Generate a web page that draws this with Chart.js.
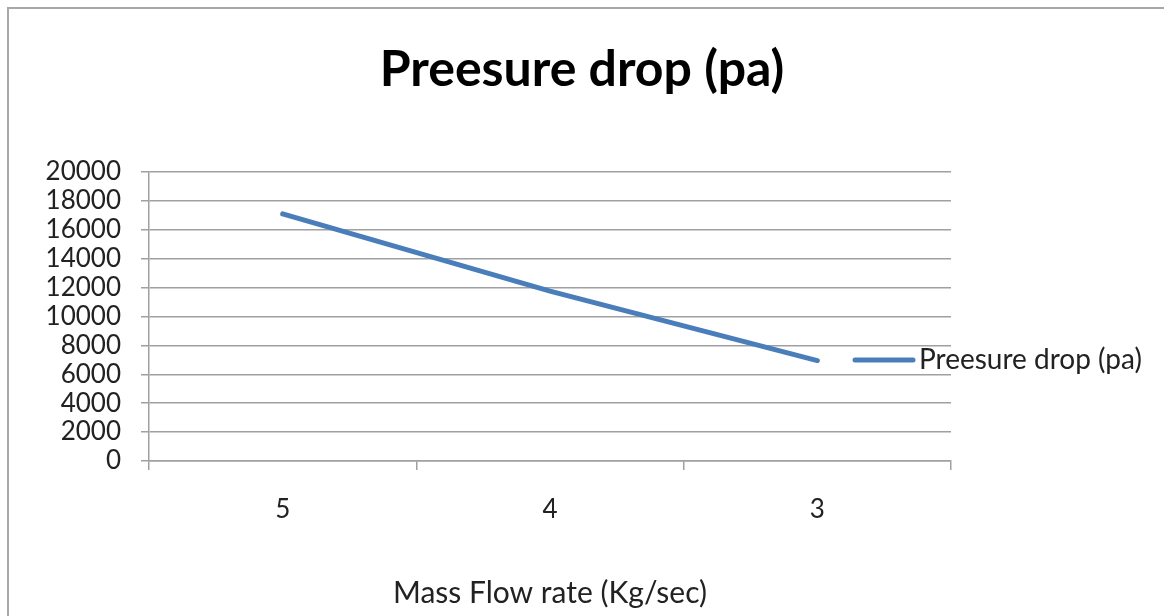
<!DOCTYPE html>
<html>
<head>
<meta charset="utf-8">
<script src="https://cdn.jsdelivr.net/npm/chart.js@4.4.1/dist/chart.umd.min.js"></script>
<style>
  html, body { margin: 0; padding: 0; background: #fff; overflow: hidden; }
  #frame { position: absolute; left: 7px; top: 7px; width: 1300px; height: 800px;
           border-left: 2px solid #a8a8a8; border-top: 2px solid #a8a8a8; }
  #wrap { position: absolute; left: 0; top: 0; width: 1164px; height: 616px; }
</style>
</head>
<body>
<div id="frame"></div>
<div id="wrap"><canvas id="chart"></canvas></div>
<script>
// data
var massFlow = ['5', '4', '3'];
var pressureDrop = [17100, 11750, 6950];
var seriesName = 'Preesure drop (pa)';
var chartTitle = 'Preesure drop (pa)';
var xTitle = 'Mass Flow rate (Kg/sec)';

var FONT = 'Lato';
var lineColor = '#4a7ebb';
var gridColor = '#a0a0a0';

// excel-ish legend sitting to the right of the plot
var sideLegend = {
  id: 'sideLegend',
  afterDraw: function(chart) {
    var ctx = chart.ctx;
    var ds = chart.data.datasets[0];
    var area = chart.chartArea;
    var y = 360;
    var x0 = area.right - 98;
    ctx.save();
    ctx.strokeStyle = ds.borderColor;
    ctx.lineWidth = 5;
    ctx.lineCap = 'round';
    ctx.beginPath();
    ctx.moveTo(x0 + 2, y);
    ctx.lineTo(x0 + 60, y);
    ctx.stroke();
    ctx.fillStyle = '#222';
    ctx.font = '28px ' + FONT;
    ctx.textBaseline = 'middle';
    ctx.textAlign = 'left';
    ctx.fillText(ds.label, x0 + 66, y);
    ctx.restore();
  }
};

var ctx = document.getElementById('chart').getContext('2d');
var chart = new Chart(ctx, {
  type: 'line',
  data: {
    labels: massFlow,
    datasets: [{
      label: seriesName,
      data: pressureDrop,
      borderColor: lineColor,
      backgroundColor: lineColor,
      borderWidth: 5,
      borderCapStyle: 'round',
      pointRadius: 0,
      fill: false,
      tension: 0
    }]
  },
  options: {
    responsive: true,
    maintainAspectRatio: false,
    animation: false,
    layout: {
      padding: 0
    },
    plugins: {
      legend: { display: false },
      tooltip: { enabled: false },
      title: {
        display: true,
        text: chartTitle,
        color: '#000',
        font: { family: FONT, size: 50, weight: 'bold' },
        padding: { top: 40, bottom: 72 }
      }
    },
    scales: {
      x: {
        offset: true,
        grid: {
          offset: true,
          drawOnChartArea: false,
          color: gridColor,
          lineWidth: 1.5,
          tickLength: 9
        },
        border: { color: gridColor, width: 1.5 },
        ticks: {
          color: '#222',
          font: { family: FONT, size: 26 },
          padding: 24,
          maxRotation: 0
        },
        title: {
          display: true,
          text: xTitle,
          color: '#222',
          font: { family: FONT, size: 30 },
          padding: { top: 0, bottom: 5 }
        },
        afterFit: function(scale) { scale.height = 155; }
      },
      y: {
        min: 0,
        max: 20000,
        grid: {
          color: gridColor,
          lineWidth: 1.5,
          tickLength: 8
        },
        border: { color: gridColor, width: 1.5 },
        ticks: {
          stepSize: 2000,
          autoSkip: false,
          color: '#222',
          font: { family: FONT, size: 26 },
          padding: 20,
          callback: function(v) { return String(v); }
        },
        afterFit: function(scale) { scale.width = 149; }
      },
      // empty right-hand strip that keeps room for the legend
      side: {
        position: 'right',
        display: true,
        grid: { display: false },
        border: { display: false },
        ticks: { display: false },
        afterFit: function(scale) { scale.width = 213; }
      }
    }
  },
  plugins: [sideLegend]
});
</script>
</body>
</html>
